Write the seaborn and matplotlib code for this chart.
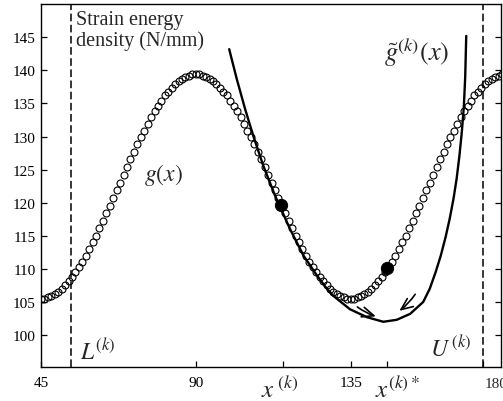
import seaborn as sns
import matplotlib.pyplot as plt

# strain energy density g(x), sampled every 1 unit along x
g_x = list(range(45, 181))
g_y = [105.5, 105.5, 105.7, 105.9, 106.2, 106.5, 107.0, 107.5, 108.1, 108.7,
       109.5, 110.3, 111.1, 112.0, 113.0, 114.0, 115.0, 116.1, 117.2, 118.4,
       119.5, 120.7, 121.9, 123.0, 124.2, 125.4, 126.6, 127.7, 128.8, 129.9,
       130.9, 131.9, 132.9, 133.8, 134.6, 135.4, 136.2, 136.8, 137.4, 137.9,
       138.4, 138.7, 139.0, 139.2, 139.4, 139.4,
       139.4, 139.2, 139.0, 138.7, 138.4, 137.9, 137.4, 136.8, 136.2, 135.4,
       134.6, 133.8, 132.9, 131.9, 130.9, 129.9, 128.8, 127.7, 126.6, 125.4,
       124.2, 123.0, 121.9, 120.7, 119.5, 118.4, 117.2, 116.1, 115.0, 114.0,
       113.0, 112.0, 111.1, 110.3, 109.5, 108.7, 108.1, 107.5, 107.0, 106.5,
       106.2, 105.9, 105.7, 105.5, 105.5,
       105.5, 105.7, 105.9, 106.2, 106.5, 107.0, 107.5, 108.1, 108.7, 109.5,
       110.3, 111.1, 112.0, 113.0, 114.0, 115.0, 116.1, 117.2, 118.4, 119.5,
       120.7, 121.9, 123.0, 124.2, 125.4, 126.6, 127.7, 128.8, 129.9, 130.9,
       131.9, 132.9, 133.8, 134.6, 135.4, 136.2, 136.8, 137.4, 137.9, 138.4,
       138.7, 139.0, 139.2, 139.4, 139.4]

# approximation g~(k)(x)
gt_x = [99.7, 101.9, 104.3, 106.7, 109.6, 113.0, 117.4, 121.3, 125.2, 128.1,
        130.0, 134.8, 139.7, 144.5, 148.4, 152.3, 156.1, 158.0, 159.7, 161.2,
        162.6, 163.8, 164.9, 165.8, 166.6, 167.3, 167.9, 168.3, 168.6]
gt_y = [143.2, 138.7, 134.2, 130.1, 125.6, 121.1, 116.0, 112.0, 109.0, 107.0,
        105.9, 103.9, 102.7, 102.0, 102.3, 103.2, 105.0, 107.0, 109.5, 112.0,
        114.8, 117.6, 120.6, 123.6, 127.0, 130.6, 134.5, 139.0, 145.2]

# current point and new optimum
pts_x = [114.7, 145.5]
pts_y = [119.7, 110.1]

L_k = 53.7
U_k = 173.4
x_k = 115.3
x_star = 145.6

sns.set_theme(style="ticks")
plt.rcParams['font.family'] = ['Liberation Serif', 'DejaVu Serif']
plt.rcParams['mathtext.fontset'] = 'stix'

fig = plt.figure(figsize=(5.03, 4.02), dpi=100)
ax = fig.add_axes([0.0815, 0.0853, 0.9145, 0.9023])

sns.lineplot(x=g_x, y=g_y, marker='o', linestyle='', markerfacecolor='none',
             markeredgecolor='black', markersize=5, markeredgewidth=0.8, ax=ax)
sns.lineplot(x=gt_x, y=gt_y, sort=False, color='black', lw=1.7, ax=ax)
sns.scatterplot(x=pts_x, y=pts_y, color='black', s=78, edgecolor='black',
                zorder=5, ax=ax)

ax.axvline(L_k, color='black', lw=1.1, dashes=(5, 2.3))
ax.axvline(U_k, color='black', lw=1.1, dashes=(5, 2.3))

# arrows toward the new minimum
ax.annotate('', xy=(143.1, 102.7), xytext=(136.3, 104.5),
            arrowprops=dict(arrowstyle='->,head_length=0.7,head_width=0.3',
                            color='black', lw=1.2,
                            connectionstyle='arc3,rad=0.1'))
ax.annotate('', xy=(148.5, 103.4), xytext=(154.2, 106.5),
            arrowprops=dict(arrowstyle='->,head_length=0.7,head_width=0.3',
                            color='black', lw=1.2,
                            connectionstyle='arc3,rad=-0.1'))

ax.set_xlim(45, 178.7)
ax.set_ylim(95.21, 150.03)
ax.set_xticks([45, 90, 135])
ax.set_xticklabels(['45', '90', '135'])
ax.set_xticks([x_k, x_star, U_k], minor=True)
ax.set_yticks([100, 105, 110, 115, 120, 125, 130, 135, 140, 145])
ax.tick_params(axis='both', which='both', direction='in', length=4,
               width=0.9, color='black', labelsize=11, labelcolor='black')
ax.tick_params(axis='y', right=True, pad=4)
ax.tick_params(axis='x', pad=7)
for s in ax.spines.values():
    s.set_visible(True)
    s.set_linewidth(1.0)
    s.set_color('black')
ax.set_xlabel('')
ax.set_ylabel('')

ax.text(0.965, -0.029, '180', transform=ax.transAxes, ha='left', va='top',
        fontsize=11, clip_on=False)

ax.text(0.076, 0.984, 'Strain energy\ndensity (N/mm)', transform=ax.transAxes,
        ha='left', va='top', fontsize=14.5, linespacing=1.1)

ax.text(80.5, 124.3, r'$g(x)$', fontsize=17, ha='center', va='center')
ax.text(154.3, 142.9, r'$\tilde{g}^{(k)}(x)$', fontsize=19, ha='center', va='center')
ax.text(56.3, 96.4, r'$L^{(k)}$', fontsize=17, ha='left', va='baseline')
ax.text(158.1, 96.9, r'$U^{\,(k)}$', fontsize=17, ha='left', va='baseline')
ax.text(0.4785, -0.083, r'$x^{\;(k)}$', transform=ax.transAxes, fontsize=18,
        ha='left', va='baseline')
ax.text(0.7265, -0.083, r'$x^{(k)*}$', transform=ax.transAxes, fontsize=18,
        ha='left', va='baseline')

fig.savefig('out.png', dpi=100)
